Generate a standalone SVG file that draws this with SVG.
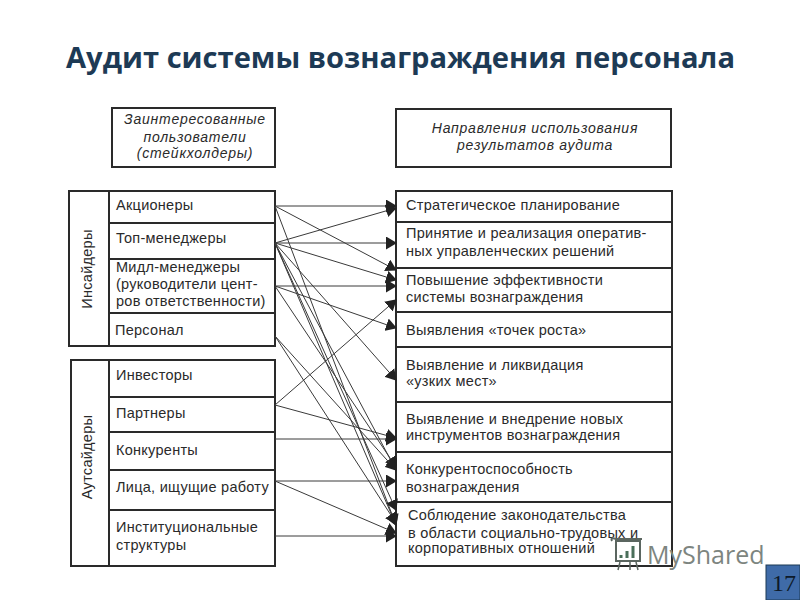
<svg xmlns="http://www.w3.org/2000/svg" width="800" height="600" viewBox="0 0 800 600">
<style>
.b{fill:#fff;stroke:#2a2a2a;stroke-width:2}
.l{stroke:#2a2a2a;stroke-width:2;fill:none}
.t{font-family:"Liberation Sans",Arial,sans-serif;font-size:14.5px;fill:#2a2a2a;letter-spacing:.27px}
.i{font-style:italic;letter-spacing:.75px;font-size:14px}
.c{stroke:#3a3a3a;stroke-width:1;fill:none;marker-end:url(#a)}
</style>
<defs><marker id="a" markerUnits="userSpaceOnUse" markerWidth="12" markerHeight="13" refX="10" refY="6.5" orient="auto"><path d="M0 0L11 6.5L0 13Z" fill="#222"/></marker></defs>
<rect width="800" height="600" fill="#fff"/>
<text x="66" y="68" font-family="'Open Sans','Liberation Sans',sans-serif" font-size="29" font-weight="700" fill="#1d3a55" textLength="669" lengthAdjust="spacingAndGlyphs">Аудит системы вознаграждения персонала</text>

<g id="header-left"><rect class="b" x="112" y="108" width="163" height="59"/>
<text class="t i" text-anchor="middle" x="195" y="124">Заинтересованные</text><text class="t i" text-anchor="middle" x="195" y="142">пользователи</text><text class="t i" text-anchor="middle" x="195" y="158">(стейкхолдеры)</text></g>
<g id="header-right"><rect class="b" x="396" y="109" width="275" height="58"/>
<text class="t i" text-anchor="middle" x="535" y="133">Направления использования</text><text class="t i" text-anchor="middle" x="535" y="150">результатов аудита</text></g>

<g id="insiders"><rect class="b" x="69" y="191" width="206" height="155"/><path class="l" d="M109 191V346M109 223H275M109 259H275M109 313H275"/>
<text class="t" transform="translate(92 269) rotate(-90)" text-anchor="middle">Инсайдеры</text>
<text class="t" x="116" y="210">Акционеры</text><text class="t" x="116" y="243">Топ-менеджеры</text><text class="t" x="116" y="272">Мидл-менеджеры</text><text class="t" x="116" y="289">(руководители цент-</text><text class="t" x="116" y="306">ров ответственности)</text><text class="t" x="115" y="335">Персонал</text></g>

<g id="outsiders"><rect class="b" x="71" y="360" width="204" height="206"/><path class="l" d="M109 360V566M109 397H275M109 432H275M109 470H275M109 510H275"/>
<text class="t" transform="translate(92 457) rotate(-90)" text-anchor="middle">Аутсайдеры</text>
<text class="t" x="116" y="380">Инвесторы</text><text class="t" x="116" y="418">Партнеры</text><text class="t" x="116" y="455">Конкуренты</text><text class="t" x="116" y="492">Лица, ищущие работу</text><text class="t" x="116" y="532">Институциональные</text><text class="t" x="116" y="550">структуры</text></g>

<g id="directions"><rect class="b" x="396" y="191" width="276" height="375"/><path class="l" d="M396 222H672M396 268H672M396 312H672M396 347H672M396 402H672M396 452H672M396 502H672"/>
<text class="t" x="406" y="210">Стратегическое планирование</text>
<text class="t" x="406" y="238">Принятие и реализация оператив-</text><text class="t" x="406" y="256">ных управленческих решений</text>
<text class="t" x="406" y="285">Повышение эффективности</text><text class="t" x="406" y="302">системы вознаграждения</text>
<text class="t" x="406" y="335">Выявления «точек роста»</text>
<text class="t" x="406" y="370">Выявление и ликвидация</text><text class="t" x="406" y="386">«узких мест»</text>
<text class="t" x="406" y="424">Выявление и внедрение новых</text><text class="t" x="406" y="440">инструментов вознаграждения</text>
<text class="t" x="406" y="474">Конкурентоспособность</text><text class="t" x="406" y="492">вознаграждения</text>
<text class="t" x="408" y="520">Соблюдение законодательства</text><text class="t" x="408" y="538">в области социально-трудовых и</text><text class="t" x="408" y="553">корпоративных отношений</text></g>

<g id="connectors">
<path class="c" d="M275 206L396 206"/><path class="c" d="M275 206L396 270"/><path class="c" d="M275 206L396 525"/>
<path class="c" d="M275 243L396 208"/><path class="c" d="M275 243L396 243"/><path class="c" d="M275 243L396 280"/><path class="c" d="M275 243L396 380"/><path class="c" d="M275 243L396 470"/><path class="c" d="M275 243L396 510"/><path class="c" d="M275 243L396 525"/>
<path class="c" d="M275 286L396 286"/><path class="c" d="M275 286L396 328"/><path class="c" d="M275 286L396 467"/>
<path class="c" d="M275 336L396 470"/><path class="c" d="M275 336L396 523"/>
<path class="c" d="M275 405L396 300"/><path class="c" d="M275 405L396 438"/>
<path class="c" d="M275 439L396 439"/><path class="c" d="M275 481L396 481"/><path class="c" d="M275 481L396 533"/><path class="c" d="M275 536L396 536"/>
</g>

<g id="watermark">
<path d="M616 541H640V561H616ZM612 541Q610 537 616 539H642" fill="none" stroke="#5b6660" stroke-width="2"/>
<path d="M621 558V555M627 558V551M633 558V546" stroke="#4a6f5a" stroke-width="3"/>
<path d="M620 562L618 570M630 562V570M636 562L638 570" stroke="#5b6660" stroke-width="1.5"/>
<text x="647" y="564" font-family="'Open Sans','Liberation Sans',sans-serif" font-size="25" fill="#7d8580">MyShared</text>
</g>
<g id="page"><rect x="766" y="565" width="34" height="35" fill="#3f6ba8" stroke="#1d3a55"/><text x="784" y="591" text-anchor="middle" font-family="'Liberation Serif',serif" font-size="24" fill="#0d1a2a">17</text></g>
</svg>
